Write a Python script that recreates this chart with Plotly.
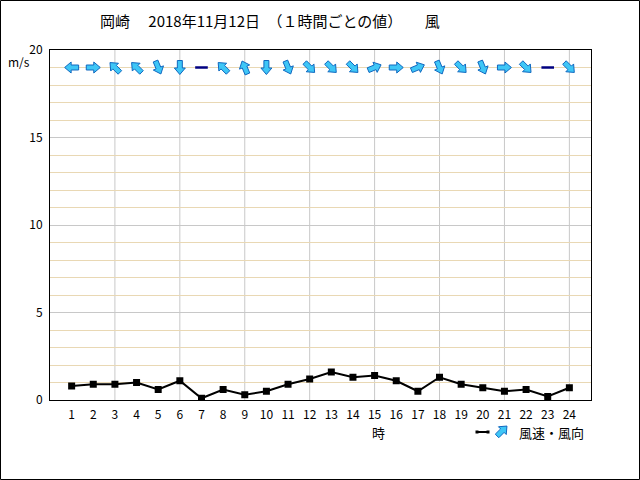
import math
import plotly.graph_objects as go

# ---------------- data ----------------
hours = list(range(1, 25))
wind_speed = [0.8, 0.9, 0.9, 1.0, 0.6, 1.1, 0.1, 0.6, 0.3, 0.5, 0.9, 1.2,
              1.6, 1.3, 1.4, 1.1, 0.5, 1.3, 0.9, 0.7, 0.5, 0.6, 0.2, 0.7]
wind_dir = ["東", "西", "南東", "南東", "北北西", "北", "静穏", "南東",
            "南南東", "北", "北北西", "北西", "北西", "北西", "西南西", "西",
            "西南西", "北北西", "北西", "北北西", "西", "北西", "静穏", "北西"]
compass16 = ["北", "北北東", "北東", "東北東", "東", "東南東", "南東", "南南東",
             "南", "南南西", "南西", "西南西", "西", "西北西", "北西", "北北西"]
y_ticks = [0, 5, 10, 15, 20]
grid_hours = hours[2::3]
title_text = "岡崎\u3000\u00a02018年11月12日\u3000（１時間ごとの値）\u3000\u3000風"
unit_text = "m/s"
xlabel_text = "時"
legend_text = "風速・風向"

# ---------------- layout constants ----------------
W, H = 640, 480
ML, MR, MT, MB = 50, 49, 50, 80
PW, PH = W - ML - MR, H - MT - MB
XR = [0, 25]
YR = [0, 20]
px_x = PW / (XR[1] - XR[0])
px_y = PH / (YR[1] - YR[0])
ARROW_LEVEL = 19
FONT = "Noto Sans CJK JP"
LIGHT = "#3ec6f6"
DARK = "#1068c0"

# block-arrow outline in pixels: (along direction, perpendicular)
ARROW_SHAPE = [(-7, -2.5), (0.5, -2.5), (0.5, -5.5), (7, 0), (0.5, 5.5), (0.5, 2.5), (-7, 2.5), (-7, -2.5)]


def arrow_offsets(bearing_deg):
    b = math.radians(bearing_deg)
    ux, uy = math.sin(b), math.cos(b)
    vx, vy = -uy, ux
    return [(a * ux + p * vx, a * uy + p * vy) for a, p in ARROW_SHAPE]


def px2paper(px, py):
    return (px - ML) / PW, (H - MB - py) / PH


fig = go.Figure()

# speed line
fig.add_trace(go.Scatter(
    x=hours, y=wind_speed, mode="lines+markers",
    line=dict(color="black", width=2),
    marker=dict(symbol="square", size=7, color="black"),
    showlegend=False, hoverinfo="skip"))

# direction arrows (polygons derived from direction data)
ax_list, ay_list = [], []
for h, d in zip(hours, wind_dir):
    if d not in compass16:
        continue
    for dx, dy in arrow_offsets(compass16.index(d) * 22.5 + 180):
        ax_list.append(h + dx / px_x)
        ay_list.append(ARROW_LEVEL + dy / px_y)
    ax_list.append(None)
    ay_list.append(None)
fig.add_trace(go.Scatter(
    x=ax_list, y=ay_list, mode="lines", fill="toself", fillcolor=LIGHT,
    line=dict(color=DARK, width=1), showlegend=False, hoverinfo="skip"))

# calm markers
calm_x = [h for h, d in zip(hours, wind_dir) if d == "静穏"]
fig.add_trace(go.Scatter(
    x=calm_x, y=[ARROW_LEVEL] * len(calm_x), mode="markers",
    marker=dict(symbol="line-ew", size=9, line=dict(color="#000080", width=2.5)),
    showlegend=False, hoverinfo="skip"))

annotations = []
mx, my = px2paper(19, 61)
annotations.append(dict(x=mx, y=my, xref="paper", yref="paper", text=unit_text,
                        xanchor="center", yanchor="middle", showarrow=False,
                        font=dict(family=FONT, size=12, color="black")))
tx_, ty_ = px2paper(378, 432)
annotations.append(dict(x=tx_, y=ty_, xref="paper", yref="paper", text=xlabel_text,
                        xanchor="center", yanchor="middle", showarrow=False,
                        font=dict(family=FONT, size=13, color="black")))
lx, ly = px2paper(517, 432)
annotations.append(dict(x=lx, y=ly, xref="paper", yref="paper", text=legend_text,
                        xanchor="left", yanchor="middle", showarrow=False,
                        font=dict(family=FONT, size=13, color="black")))

shapes = []
for g in grid_hours:
    shapes.append(dict(type="line", xref="x", yref="paper", x0=g, x1=g, y0=0, y1=1,
                       line=dict(color="#c8c8c8", width=1), layer="below"))
# legend line sample
l0x, l0y = px2paper(477, 432)
l1x, _ = px2paper(488, 432)
shapes.append(dict(type="line", xref="paper", yref="paper", x0=l0x, x1=l1x, y0=l0y, y1=l0y,
                   line=dict(color="black", width=2)))
for ex in (l0x, l1x):
    shapes.append(dict(type="rect", xref="paper", yref="paper",
                       x0=ex - 1.5 / PW, x1=ex + 1.5 / PW, y0=l0y - 1.5 / PH, y1=l0y + 1.5 / PH,
                       fillcolor="black", line=dict(width=0)))
# legend arrow sample
pts = []
for dx, dy in arrow_offsets(45):
    pxp, pyp = px2paper(502 + dx, 431 - dy)
    pts.append(f"{pxp:.5f},{pyp:.5f}")
shapes.append(dict(type="path", xref="paper", yref="paper",
                   path="M" + "L".join(pts) + "Z", fillcolor=LIGHT,
                   line=dict(color=DARK, width=1)))
# outer frame
shapes.append(dict(type="rect", xref="paper", yref="paper",
                   x0=-(ML - 0.5) / PW, x1=1 + (MR - 0.5) / PW,
                   y0=-(MB - 0.5) / PH, y1=1 + (MT - 0.5) / PH,
                   line=dict(color="black", width=1)))

fig.update_layout(
    width=W, height=H,
    margin=dict(l=ML, r=MR, t=MT, b=MB),
    paper_bgcolor="white", plot_bgcolor="white",
    font=dict(family=FONT, size=12, color="black"),
    title=dict(text=title_text, x=100 / W, xanchor="left", xref="container",
               y=1 - 22 / H, yanchor="middle", yref="container",
               font=dict(family=FONT, size=15, color="black")),
    xaxis=dict(range=XR, tickvals=hours, ticktext=[str(h) for h in hours],
               showgrid=False, zeroline=False, showline=True, linecolor="black",
               mirror=True, ticks="outside", ticklen=4, tickcolor="rgba(0,0,0,0)",
               tickfont=dict(family=FONT, size=12), fixedrange=True),
    yaxis=dict(range=YR, tickvals=y_ticks, showgrid=True, gridcolor="#c8c8c8",
               zeroline=False, showline=True, linecolor="black", mirror=True,
               ticks="outside", ticklen=4, tickcolor="rgba(0,0,0,0)",
               minor=dict(dtick=1, showgrid=True, gridcolor="#e9d8b4"),
               tickfont=dict(family=FONT, size=12), fixedrange=True),
    annotations=annotations, shapes=shapes, showlegend=False,
)

fig.write_html("out.html")
